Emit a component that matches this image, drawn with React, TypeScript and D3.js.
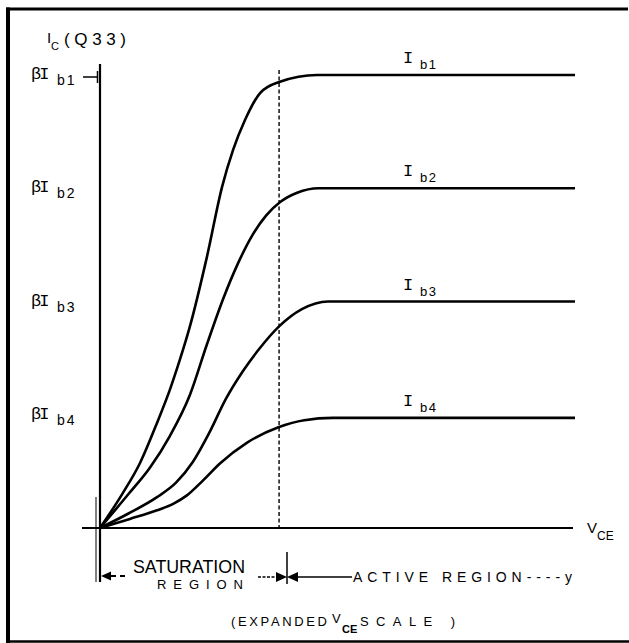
import React from "react";
import * as d3 from "d3";

// Data (V_CE in arbitrary expanded units, I_C normalised so βIb1 = 100)
const ib1X = [0, 4.8, 8.4, 12, 14.7, 16.8, 18.9, 22.5, 25.7, 28, 30.5, 33.7, 37.9, 45.7, 100];
const ib1Y = [0, 7.7, 14.3, 23.2, 30.5, 37.1, 44.4, 59.8, 75.3, 83.4, 90, 96, 98.5, 100, 100];
const ib2X = [0, 6, 10.5, 14.7, 18.9, 22.5, 25.9, 29, 32, 35, 38, 41.5, 46, 100];
const ib2Y = [0, 7.5, 13.3, 20.3, 29.3, 40.5, 50.5, 58.3, 64.5, 69, 72, 74, 75, 75];
const ib3X = [0, 6, 12, 16, 19.5, 23, 26.5, 30, 33.5, 37.7, 42.5, 48, 100];
const ib3Y = [0, 3.2, 6.8, 10, 14.5, 21, 28.5, 34.5, 39.5, 44.5, 48.3, 50, 50];
const ib4X = [0, 6.3, 12, 15.5, 18.3, 21.5, 25.3, 30.9, 37.7, 43, 49, 100];
const ib4Y = [0, 2, 3.9, 5.4, 7.2, 10.3, 14.3, 18.8, 22.3, 23.8, 24.3, 24.3];

const seriesSubs = ["b1", "b2", "b3", "b4"];
const tickValues = [100, 75, 50, 25];
const tickSubs = ["b1", "b2", "b3", "b4"];
const saturationEdge = 37.7;

const font = "'Liberation Sans', Arial, sans-serif";
const mono = "'Liberation Mono', 'DejaVu Sans Mono', monospace";

export default function App() {
  const x = d3.scaleLinear().domain([0, 100]).range([100, 575]);
  const y = d3.scaleLinear().domain([0, 100]).range([528, 75]);
  const line = d3
    .line<[number, number]>()
    .x((d) => x(d[0]))
    .y((d) => y(d[1]))
    .curve(d3.curveMonotoneX);

  const series = [
    [ib1X, ib1Y],
    [ib2X, ib2Y],
    [ib3X, ib3Y],
    [ib4X, ib4Y],
  ].map(([xs, ys]) => xs.map((v, i) => [v, ys[i]] as [number, number]));

  const x0 = x(0);
  const y0 = y(0);
  const xd = x(saturationEdge);

  return (
    <svg
      width={629}
      height={643}
      style={{ position: "absolute", left: 0, top: 0, background: "#fff" }}
      fontFamily={font}
    >
      <rect x={0} y={0} width={629} height={643} fill="#fff" />
      {/* frame */}
      <line x1={6} y1={9} x2={628} y2={9} stroke="#000" strokeWidth={3} />
      <line x1={8} y1={7.5} x2={8} y2={643} stroke="#000" strokeWidth={4} />
      <line x1={6} y1={641.5} x2={629} y2={641.5} stroke="#000" strokeWidth={2.5} />

      {/* axes */}
      <line x1={x0} y1={64} x2={x0} y2={582} stroke="#000" strokeWidth={2.2} />
      <line x1={82} y1={y0} x2={573} y2={y0} stroke="#000" strokeWidth={1.8} />
      <line x1={96} y1={497} x2={96} y2={582} stroke="#000" strokeWidth={1} />

      {/* βIb1 tick */}
      <line x1={83} y1={77} x2={97} y2={77} stroke="#000" strokeWidth={1.5} />
      <line x1={97.5} y1={71} x2={97.5} y2={83} stroke="#000" strokeWidth={1.5} />

      {/* dashed saturation boundary */}
      <line
        x1={xd}
        y1={70}
        x2={xd}
        y2={y0}
        stroke="#000"
        strokeWidth={1.4}
        strokeDasharray="4 2.5"
      />

      {/* curves */}
      {series.map((s, i) => (
        <path key={i} d={line(s) || ""} fill="none" stroke="#000" strokeWidth={2.6} />
      ))}

      {/* curve labels */}
      {series.map((s, i) => {
        const py = y(s[s.length - 1][1]);
        return (
          <g key={"l" + i}>
            <text x={403} y={py - 12} fontSize={17} fontFamily={mono}>
              I
            </text>
            <text x={420} y={py - 6} fontSize={13} letterSpacing={1.5}>
              {seriesSubs[i]}
            </text>
          </g>
        );
      })}

      {/* y tick labels */}
      {tickValues.map((v, i) => {
        const py = y(v);
        return (
          <g key={"t" + i}>
            <text x={31} y={py + 4} fontSize={17} fontFamily={mono} letterSpacing={-2}>
              βI
            </text>
            <text x={57} y={py + 10} fontSize={14} letterSpacing={2}>
              {tickSubs[i]}
            </text>
          </g>
        );
      })}

      {/* y axis title */}
      <text x={47} y={43} fontSize={15}>
        I
      </text>
      <text x={51} y={50} fontSize={11}>
        C
      </text>
      <text x={64} y={45} fontSize={17} textLength={62} lengthAdjust="spacing">
        (Q33)
      </text>

      {/* x axis title */}
      <text x={587} y={533} fontSize={15}>
        V
      </text>
      <text x={597} y={540} fontSize={12}>
        CE
      </text>

      {/* saturation arrow */}
      <path d={`M${x0 + 1},576 L${x0 + 11},571.5 L${x0 + 11},580.5 Z`} fill="#000" />
      <line x1={x0 + 11} y1={576} x2={x0 + 16} y2={576} stroke="#000" strokeWidth={2} />
      <line x1={x0 + 20} y1={576} x2={x0 + 25} y2={576} stroke="#000" strokeWidth={2} />
      <text x={133} y={573} fontSize={18} textLength={112} lengthAdjust="spacingAndGlyphs">
        SATURATION
      </text>
      <text x={157} y={589} fontSize={13} textLength={86} lengthAdjust="spacing">
        REGION
      </text>

      {/* active region arrow */}
      <line x1={258} y1={577} x2={276} y2={577} stroke="#000" strokeWidth={1.5} strokeDasharray="3 1.5" />
      <path d="M276,572 L287,577 L276,582 Z" fill="#000" />
      <path d="M298,572 L287,577 L298,582 Z" fill="#000" />
      <line x1={287} y1={552} x2={287} y2={584} stroke="#000" strokeWidth={1.5} />
      <line x1={297} y1={577} x2={352} y2={577} stroke="#000" strokeWidth={1.5} />
      <text x={353} y={582} fontSize={14} textLength={219} lengthAdjust="spacing">
        ACTIVE REGION----y
      </text>

      {/* expanded scale note */}
      <text x={231} y={626} fontSize={13} textLength={96} lengthAdjust="spacing">
        (EXPANDED
      </text>
      <text x={332} y={623} fontSize={13}>
        V
      </text>
      <text x={342} y={633} fontSize={11} fontWeight="bold">
        CE
      </text>
      <text x={360} y={626} fontSize={13} textLength={95} lengthAdjust="spacing">
        SCALE )
      </text>
    </svg>
  );
}
